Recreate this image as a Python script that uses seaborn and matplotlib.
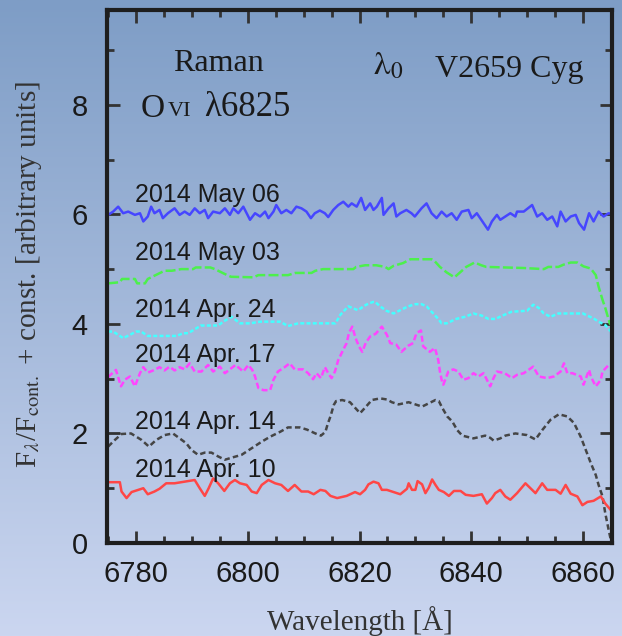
import numpy as np
import pandas as pd
import matplotlib
matplotlib.use("Agg")
import matplotlib.pyplot as plt
from matplotlib.ticker import MultipleLocator
import seaborn as sns

# (wavelength [A], F/Fcont + const)
may06 = [(6775.0, 5.99), (6775.9, 6.05), (6776.8, 6.14), (6777.7, 6.02), (6778.6, 6.05), (6779.8, 5.99),
         (6780.7, 6.02), (6781.3, 5.87), (6782.1, 5.96), (6782.7, 6.14), (6783.3, 6.02), (6784.2, 6.08),
         (6784.8, 5.93), (6785.7, 6.02), (6786.9, 6.11), (6787.8, 5.99), (6788.7, 6.05), (6789.6, 5.99),
         (6790.5, 6.11), (6791.4, 6.02), (6792.3, 6.08), (6792.9, 5.93), (6793.8, 6.05), (6795.0, 6.02),
         (6795.9, 6.11), (6796.8, 5.99), (6797.4, 6.11), (6798.3, 6.02), (6799.2, 6.14), (6799.8, 6.02),
         (6800.4, 5.90), (6801.3, 6.02), (6802.2, 5.96), (6803.1, 6.05), (6803.7, 5.93), (6804.6, 6.05),
         (6805.1, 6.17), (6806.0, 6.02), (6806.9, 6.08), (6807.8, 6.02), (6808.7, 6.14), (6809.6, 6.11),
         (6810.5, 6.05), (6811.3, 5.93), (6812.0, 6.02), (6812.9, 6.07), (6813.8, 6.02), (6814.4, 5.95),
         (6815.3, 6.08), (6816.2, 6.17), (6817.1, 6.23), (6818.0, 6.14), (6818.6, 6.20), (6819.5, 6.14),
         (6820.3, 6.30), (6821.0, 6.08), (6821.9, 6.20), (6822.5, 6.08), (6823.1, 6.14), (6824.0, 6.30),
         (6824.3, 5.99), (6825.2, 6.11), (6826.1, 6.20), (6826.6, 5.96), (6827.3, 6.02), (6828.4, 6.08),
         (6829.3, 6.02), (6829.9, 5.96), (6831.1, 6.11), (6832.0, 6.20), (6832.9, 6.02), (6833.8, 5.93),
         (6834.7, 6.05), (6835.6, 5.96), (6836.5, 6.02), (6837.4, 5.90), (6838.3, 6.05), (6839.5, 6.08),
         (6840.1, 5.93), (6841.0, 6.02), (6842.2, 5.84), (6843.0, 5.72), (6843.7, 5.87), (6844.6, 5.99),
         (6845.2, 5.90), (6846.1, 5.96), (6847.0, 6.02), (6847.9, 5.96), (6848.2, 6.05), (6849.4, 6.05),
         (6850.9, 6.17), (6851.8, 5.96), (6852.7, 6.02), (6853.6, 5.90), (6854.5, 5.96), (6855.4, 5.78),
         (6856.0, 6.05), (6856.9, 5.87), (6857.8, 5.96), (6858.7, 5.99), (6859.3, 5.84), (6860.2, 5.72),
         (6861.1, 6.02), (6861.9, 5.87), (6862.8, 6.05), (6863.7, 5.96), (6864.6, 6.02), (6865.3, 6.00)]

may03 = [(6775.0, 4.74), (6777.1, 4.76), (6777.5, 4.82), (6779.8, 4.82), (6780.2, 4.74), (6781.6, 4.74),
         (6782.1, 4.82), (6783.9, 4.91), (6785.1, 4.97), (6786.4, 4.97), (6788.1, 5.00), (6790.2, 5.00),
         (6790.7, 5.03), (6793.3, 5.03), (6794.1, 5.00), (6795.9, 4.91), (6797.0, 4.86), (6801.0, 4.85),
         (6801.9, 4.89), (6807.2, 4.89), (6808.5, 4.93), (6811.4, 4.93), (6812.1, 4.97), (6813.5, 5.00),
         (6818.9, 5.00), (6819.4, 5.04), (6821.0, 5.07), (6823.0, 5.07), (6824.6, 5.04), (6825.2, 5.00),
         (6826.1, 5.06), (6827.8, 5.11), (6829.1, 5.18), (6832.9, 5.18), (6833.5, 5.14), (6834.4, 5.04),
         (6835.6, 4.94), (6837.0, 4.85), (6838.0, 4.94), (6839.1, 5.04), (6840.6, 5.12), (6841.8, 5.07),
         (6842.7, 5.04), (6849.4, 5.02), (6853.0, 5.00), (6853.8, 5.04), (6855.6, 5.04), (6856.5, 5.08),
         (6857.8, 5.12), (6859.0, 5.12), (6860.1, 5.05), (6861.4, 5.01), (6862.3, 4.89), (6862.8, 4.68),
         (6863.5, 4.44), (6864.0, 4.29), (6864.8, 4.01), (6865.3, 3.95)]

apr24 = [(6775.0, 3.86), (6775.9, 3.86), (6776.8, 3.80), (6777.7, 3.74), (6778.9, 3.80), (6780.0, 3.86),
         (6780.9, 3.86), (6782.1, 3.78), (6784.8, 3.78), (6787.3, 3.78), (6788.4, 3.83), (6789.3, 3.83),
         (6790.5, 3.90), (6791.6, 3.97), (6794.7, 3.97), (6795.6, 4.04), (6797.1, 4.13), (6798.6, 4.01),
         (6800.4, 4.01), (6802.2, 4.04), (6805.8, 4.04), (6807.2, 3.96), (6809.0, 4.01), (6810.8, 4.01),
         (6812.4, 4.01), (6815.7, 4.01), (6816.6, 4.17), (6818.0, 4.32), (6819.7, 4.25), (6821.2, 4.35),
         (6822.4, 4.40), (6822.8, 4.40), (6823.7, 4.32), (6824.8, 4.24), (6826.1, 4.19), (6827.5, 4.26),
         (6828.7, 4.32), (6830.0, 4.36), (6831.1, 4.36), (6832.0, 4.32), (6833.2, 4.19), (6834.1, 4.09),
         (6834.7, 4.01), (6835.6, 4.01), (6837.3, 4.09), (6838.9, 4.13), (6840.4, 4.19), (6841.9, 4.15),
         (6843.1, 4.09), (6844.3, 4.09), (6845.8, 4.16), (6847.2, 4.22), (6848.5, 4.23), (6850.0, 4.24),
         (6851.1, 4.35), (6852.1, 4.29), (6853.0, 4.19), (6854.2, 4.13), (6855.6, 4.19), (6857.3, 4.19),
         (6858.7, 4.19), (6860.0, 4.19), (6860.8, 4.15), (6861.9, 4.10), (6862.8, 4.04), (6864.0, 3.98),
         (6865.0, 3.86)]

apr17 = [(6775.0, 3.03), (6776.4, 3.16), (6777.3, 2.86), (6778.0, 2.98), (6778.9, 3.04), (6779.8, 2.86),
         (6780.7, 3.10), (6781.3, 3.21), (6782.1, 3.11), (6783.3, 3.16), (6784.2, 3.21), (6785.1, 3.15),
         (6786.0, 3.22), (6786.9, 3.15), (6787.8, 3.21), (6788.7, 3.17), (6789.6, 3.28), (6790.5, 3.13),
         (6791.7, 3.13), (6792.9, 3.25), (6793.8, 3.13), (6795.0, 3.22), (6795.9, 3.10), (6796.8, 3.17),
         (6797.8, 3.25), (6799.2, 3.13), (6800.1, 3.25), (6800.8, 3.16), (6801.3, 3.04), (6801.9, 2.83),
         (6802.8, 2.79), (6804.0, 2.79), (6804.6, 2.98), (6805.4, 3.13), (6806.6, 3.21), (6807.5, 3.28),
         (6808.4, 3.17), (6809.9, 3.17), (6810.8, 3.10), (6811.7, 2.99), (6812.3, 3.10), (6813.1, 3.01),
         (6813.8, 3.21), (6814.4, 3.10), (6815.0, 3.01), (6815.6, 3.13), (6816.2, 3.34), (6817.1, 3.53),
         (6817.7, 3.65), (6818.1, 3.83), (6818.7, 3.95), (6819.3, 3.74), (6819.9, 3.59), (6820.5, 3.49),
         (6821.1, 3.65), (6821.9, 3.77), (6822.9, 3.82), (6824.0, 3.95), (6824.9, 3.80), (6825.5, 3.65),
         (6826.6, 3.62), (6827.5, 3.49), (6828.7, 3.60), (6829.6, 3.65), (6830.2, 3.83), (6831.0, 3.88),
         (6831.4, 3.59), (6832.6, 3.49), (6833.5, 3.56), (6834.1, 3.34), (6834.4, 3.13), (6834.7, 2.98),
         (6835.0, 2.89), (6835.9, 3.13), (6836.8, 3.17), (6837.7, 3.13), (6838.6, 2.98), (6839.5, 3.01),
         (6840.4, 3.10), (6841.3, 3.04), (6842.2, 3.10), (6842.8, 2.98), (6843.4, 2.86), (6844.0, 3.01),
         (6844.6, 3.13), (6846.0, 3.10), (6847.3, 3.01), (6848.2, 3.07), (6849.4, 3.10), (6851.1, 3.22),
         (6852.1, 3.04), (6853.6, 3.01), (6854.8, 3.04), (6856.0, 3.13), (6856.6, 3.28), (6857.2, 3.10),
         (6858.1, 3.10), (6859.6, 3.04), (6860.1, 2.89), (6861.1, 3.16), (6861.4, 3.04), (6862.3, 2.86),
         (6863.2, 2.98), (6863.5, 3.13), (6864.7, 3.26), (6865.3, 3.28)]

apr14 = [(6775.0, 1.76), (6776.2, 1.88), (6777.4, 1.99), (6779.1, 2.00), (6781.0, 1.88), (6782.3, 1.76),
         (6783.6, 1.88), (6785.1, 1.97), (6786.6, 2.00), (6787.8, 1.91), (6789.0, 1.82), (6789.9, 1.70),
         (6791.1, 1.61), (6792.3, 1.65), (6793.5, 1.65), (6794.7, 1.58), (6795.9, 1.52), (6797.2, 1.56),
         (6798.9, 1.61), (6800.7, 1.73), (6802.5, 1.85), (6804.0, 1.94), (6805.8, 2.03), (6807.2, 2.11),
         (6809.3, 2.11), (6810.6, 2.07), (6812.1, 2.00), (6813.1, 1.96), (6813.9, 2.03), (6814.3, 2.17),
         (6814.8, 2.31), (6815.4, 2.52), (6815.8, 2.59), (6816.9, 2.61), (6818.3, 2.57), (6819.2, 2.47),
         (6820.1, 2.37), (6821.0, 2.47), (6822.2, 2.61), (6823.7, 2.64), (6824.9, 2.62), (6825.8, 2.57),
         (6827.0, 2.53), (6828.8, 2.57), (6830.0, 2.53), (6831.2, 2.49), (6832.4, 2.55), (6833.6, 2.61),
         (6834.2, 2.59), (6834.8, 2.47), (6835.7, 2.31), (6836.6, 2.22), (6837.5, 2.06), (6838.4, 1.96),
         (6840.4, 1.91), (6842.5, 1.96), (6843.4, 1.92), (6844.0, 1.87), (6845.2, 1.91), (6846.1, 1.96),
         (6847.9, 2.00), (6850.0, 1.97), (6851.5, 1.89), (6852.7, 2.06), (6854.2, 2.25), (6855.7, 2.35),
         (6857.2, 2.31), (6858.4, 2.19), (6859.6, 1.94), (6860.5, 1.70), (6861.4, 1.46), (6862.3, 1.24),
         (6862.8, 1.06), (6863.5, 0.85), (6864.0, 0.54), (6864.6, 0.24), (6865.0, 0.05)]

apr10 = [(6775.0, 1.11), (6777.1, 1.11), (6777.4, 0.94), (6778.3, 0.82), (6779.2, 0.93), (6780.4, 0.97),
         (6781.3, 1.00), (6782.1, 0.89), (6783.3, 0.94), (6784.2, 0.99), (6785.4, 1.09), (6786.9, 1.09),
         (6788.7, 1.12), (6790.5, 1.15), (6791.4, 1.00), (6792.3, 0.86), (6793.0, 1.00), (6793.8, 1.18),
         (6794.7, 1.09), (6795.8, 0.95), (6796.8, 1.09), (6797.7, 1.15), (6798.6, 1.09), (6799.8, 1.06),
         (6800.7, 0.94), (6801.6, 0.91), (6802.5, 1.06), (6803.7, 1.15), (6804.9, 1.09), (6806.0, 1.06),
         (6807.2, 0.95), (6808.4, 1.06), (6809.6, 0.94), (6810.8, 0.94), (6811.8, 0.89), (6813.0, 0.97),
         (6813.9, 0.95), (6814.8, 0.86), (6816.0, 0.82), (6817.7, 0.86), (6819.2, 0.93), (6820.1, 0.89),
         (6821.0, 0.97), (6821.6, 1.07), (6822.5, 1.12), (6823.4, 1.09), (6824.0, 0.97), (6824.9, 0.97),
         (6826.1, 0.93), (6827.3, 0.89), (6828.5, 0.99), (6828.8, 1.09), (6829.4, 0.97), (6830.0, 0.97),
         (6830.4, 1.13), (6831.2, 1.07), (6831.8, 0.91), (6832.4, 1.01), (6833.0, 1.16), (6833.6, 1.06),
         (6834.2, 0.97), (6835.1, 0.93), (6836.0, 0.86), (6836.9, 0.95), (6838.1, 0.95), (6839.0, 0.88),
         (6840.4, 0.86), (6841.9, 0.89), (6842.8, 0.72), (6843.7, 0.82), (6844.3, 0.91), (6845.2, 0.97),
         (6846.1, 0.85), (6847.0, 0.79), (6848.2, 0.91), (6849.7, 1.09), (6851.5, 0.91), (6852.7, 1.09),
         (6853.6, 0.97), (6855.1, 0.97), (6856.0, 0.90), (6856.9, 1.06), (6857.8, 0.90), (6859.0, 0.85),
         (6859.9, 0.69), (6860.8, 0.75), (6861.9, 0.77), (6863.2, 0.85), (6864.0, 0.72), (6865.0, 0.60)]

dates = ["2014 May 06", "2014 May 03", "2014 Apr. 24", "2014 Apr. 17", "2014 Apr. 14", "2014 Apr. 10"]
spectra = [may06, may03, apr24, apr17, apr14, apr10]
label_y = [6.22, 5.16, 4.13, 3.31, 2.08, 1.21]

colours = dict(zip(dates, ["#4646ff", "#4cf04c", "#44ffff", "#ff44ff", "#454545", "#ff4646"]))
dashes = dict(zip(dates, ["", (4, 1.3), (1.6, 0.9), (2.4, 1.2), (2.2, 1.3), ""]))

frames = []
for d, s in zip(dates, spectra):
    wl, fl = zip(*s)
    frames.append(pd.DataFrame({"wavelength": wl, "flux": fl, "date": d}))
df = pd.concat(frames, ignore_index=True)

sns.set_style("ticks")
plt.rcParams["font.family"] = ["Liberation Sans", "DejaVu Sans"]
plt.rcParams["mathtext.fontset"] = "stix"
serif = ["Liberation Serif", "DejaVu Serif"]
ink = "#1a1a1a"

fig = plt.figure(figsize=(6.22, 6.36), dpi=100)

# bluish gradient behind everything
bg = fig.add_axes([0, 0, 1, 1])
top_c = np.array([126, 157, 198]) / 255
bot_c = np.array([203, 214, 240]) / 255
t = np.linspace(0, 1, 256)[:, None]
grad = top_c[None, :] * (1 - t) + bot_c[None, :] * t
bg.imshow(grad[:, None, :], aspect="auto", extent=[0, 1, 0, 1])
bg.set_axis_off()

ax = fig.add_axes([107 / 622, 93 / 636, 505 / 622, 533 / 636])
ax.set_facecolor("none")
sns.lineplot(data=df, x="wavelength", y="flux", hue="date", style="date",
             palette=colours, dashes=dashes, estimator=None, sort=False,
             linewidth=1.8, legend=False, ax=ax)

ax.set_xlim(6774.8, 6865.2)
ax.set_ylim(0, 9.73)
ax.xaxis.set_major_locator(MultipleLocator(20))
ax.xaxis.set_minor_locator(MultipleLocator(5))
ax.yaxis.set_major_locator(MultipleLocator(2))
ax.yaxis.set_minor_locator(MultipleLocator(1))
ax.tick_params(which="both", direction="in", top=True, right=True, color="#333333", width=2)
ax.tick_params(which="major", length=9)
ax.tick_params(which="minor", length=5)
ax.tick_params(axis="x", labelsize=21, pad=12, labelcolor=ink)
ax.tick_params(axis="y", labelsize=21, pad=14, labelcolor=ink)
for sp in ax.spines.values():
    sp.set_linewidth(3)
    sp.set_color("#1e1e1e")

ax.set_xlabel("Wavelength [Å]", fontsize=21, family=serif, color="#333333")
ax.xaxis.set_label_coords(0.5, -0.118)
ax.set_ylabel(r"F$_\lambda$/F$_{\rm cont.}$ + const. [arbitrary units]", fontsize=21,
              family=serif, color="#333333")
ax.yaxis.set_label_coords(-0.125, 0.503)

for d, y in zip(dates, label_y):
    ax.text(6779.8, y, d, fontsize=18, color=ink, ha="left", va="baseline")

ax.text(6794.7, 8.62, "Raman", fontsize=23, family=serif, color=ink, ha="center", va="baseline")
t1 = ax.text(6780.9, 7.78, "O", fontsize=24, family=serif, color=ink, va="baseline")
t2 = ax.annotate("VI", xy=(1, 0), xycoords=t1, xytext=(2, 1.7), textcoords="offset points",
                 fontsize=16, family=serif, color=ink, va="bottom")
ax.annotate("λ6825", xy=(1, 0), xycoords=t2, xytext=(9, -1.7), textcoords="offset points",
            fontsize=25, family=serif, color=ink, va="bottom")
ax.text(6822.5, 8.55, r"$\mathrm{\lambda}_0$", fontsize=24, color=ink, va="baseline")
ax.text(6833.5, 8.5, "V2659 Cyg", fontsize=23, family=serif, color=ink, va="baseline")

fig.savefig("out.png", dpi=100)
